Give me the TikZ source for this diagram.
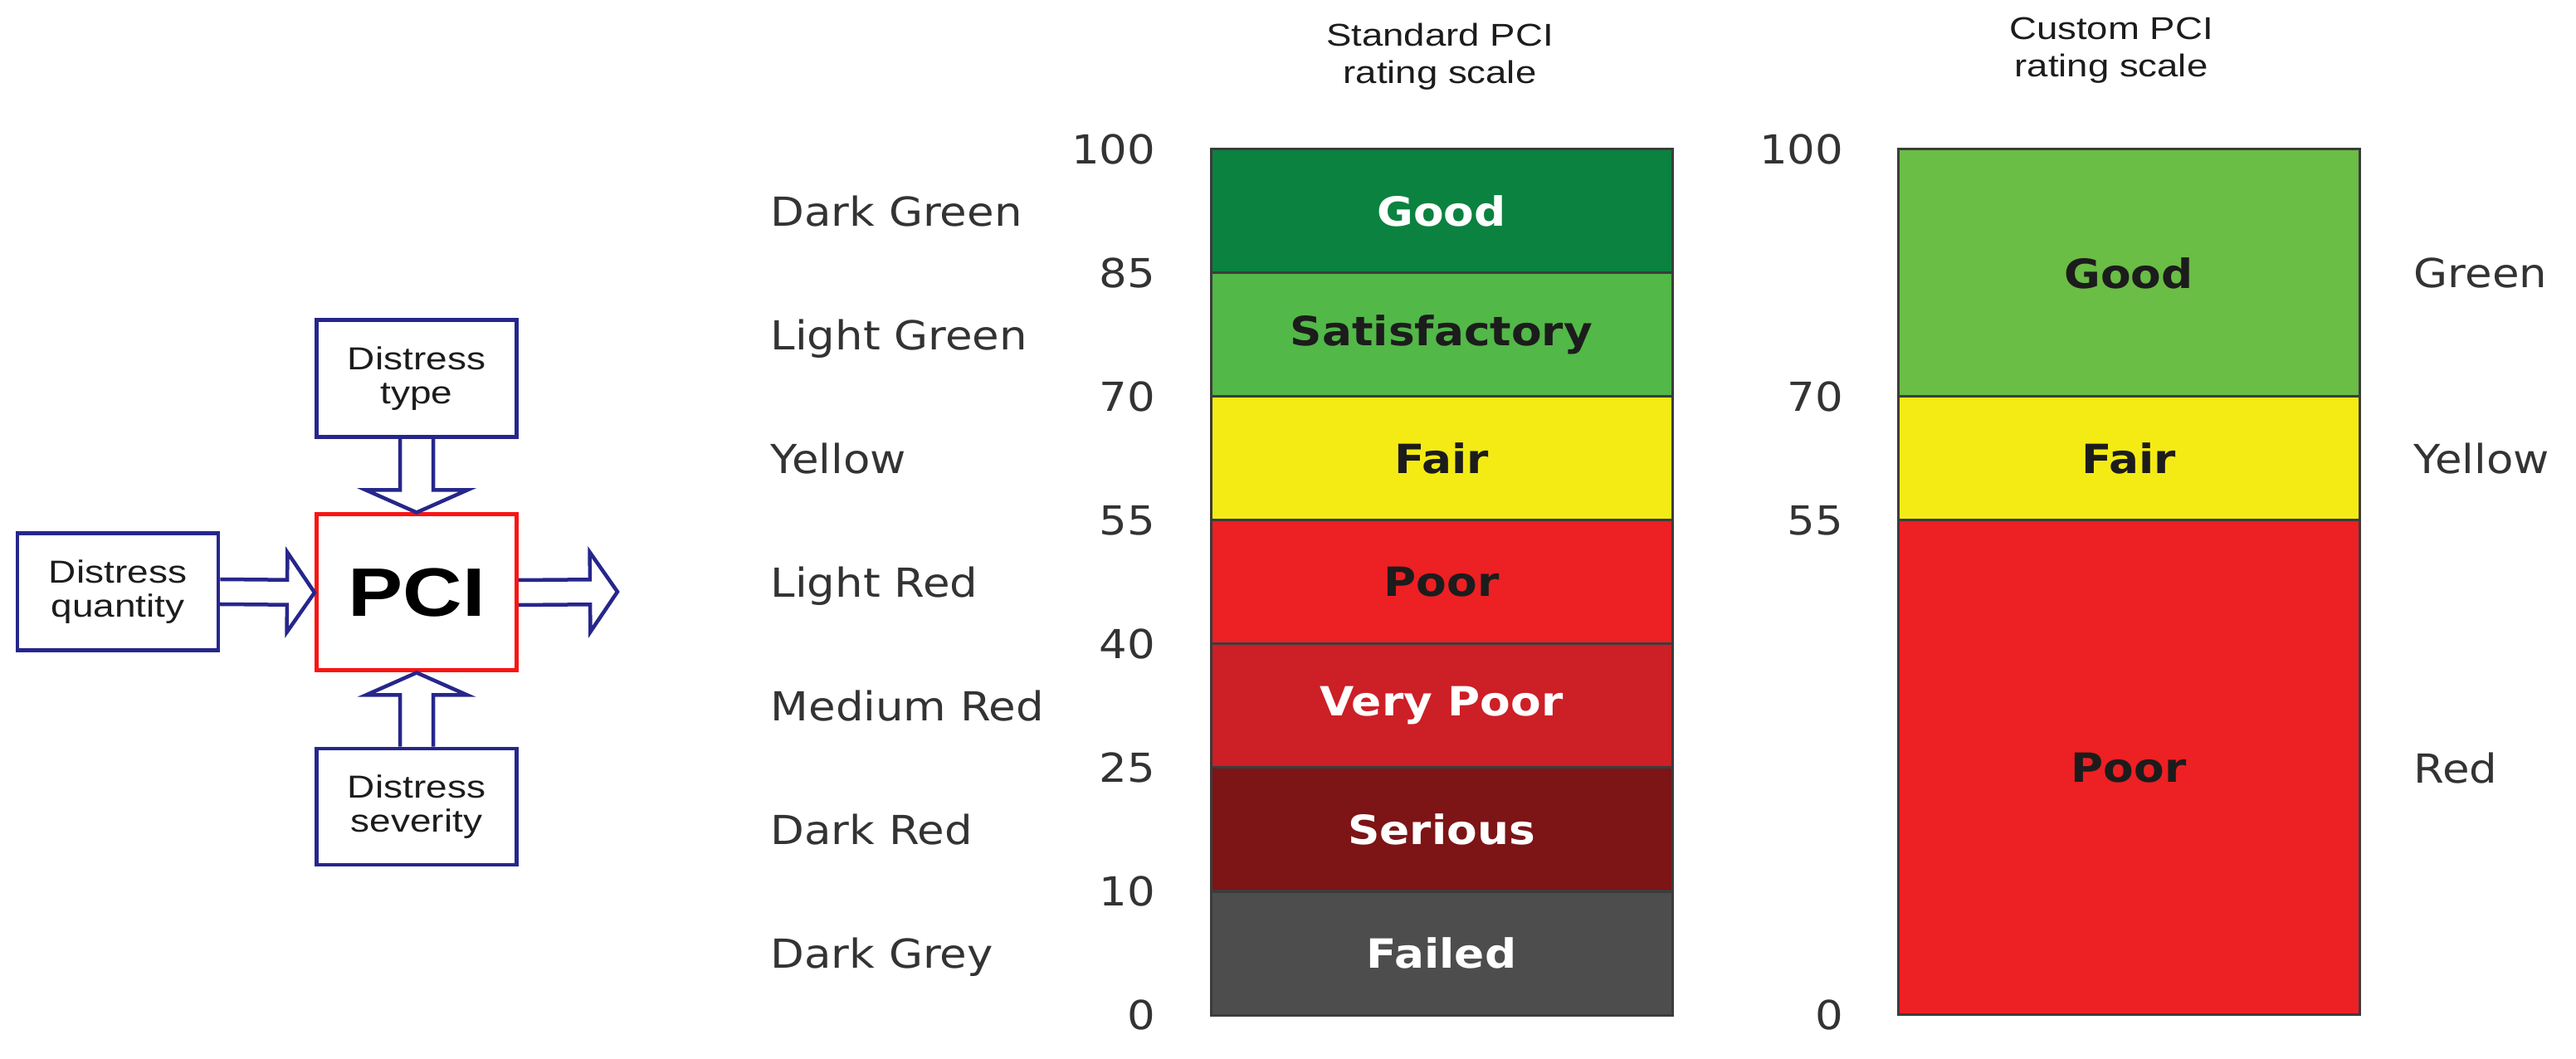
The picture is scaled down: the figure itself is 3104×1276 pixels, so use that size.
\documentclass[tikz,border=0pt]{standalone}
\usepackage{fontspec}
\usetikzlibrary{calc}
\newfontfamily\boxfont[FakeStretch=1.2]{Liberation Sans}
\newfontfamily\tahomafont[FakeStretch=1.1]{DejaVu Sans}
\definecolor{boxblue}{RGB}{38,38,140}
\definecolor{pcired}{RGB}{250,20,20}
\definecolor{darkgreen}{RGB}{11,130,64}
\definecolor{lightgreen}{RGB}{82,184,72}
\definecolor{customgreen}{RGB}{106,189,69}
\definecolor{scaleyellow}{RGB}{244,235,20}
\definecolor{lightred}{RGB}{237,32,36}
\definecolor{mediumred}{RGB}{204,31,38}
\definecolor{darkred}{RGB}{125,20,22}
\definecolor{darkgrey}{RGB}{77,77,77}
\definecolor{bandline}{RGB}{60,60,60}
\definecolor{labelgrey}{RGB}{51,51,51}
\definecolor{inkblack}{RGB}{28,28,28}

\begin{document}
\begin{tikzpicture}[x=0.1mm,y=-0.1mm,
 inbox/.style={draw=boxblue,line width=0.45mm,minimum width=24.1mm,minimum height=14.1mm,align=center,inner sep=0pt,text=inkblack,font=\boxfont\fontsize{10.9}{11.8}\selectfont},
 fat arrow/.style args={#1/#2/#3}{draw=boxblue,line width=0.45mm,to path={
  ($(\tikztostart)!#1!90:(\tikztotarget)$)
  -- ($($(\tikztotarget)!#3!(\tikztostart)$)!#1!90:(\tikztotarget)$)
  -- ($($(\tikztotarget)!#3!(\tikztostart)$)!#2!90:(\tikztotarget)$)
  -- (\tikztotarget)
  -- ($($(\tikztotarget)!#3!(\tikztostart)$)!#2!-90:(\tikztotarget)$)
  -- ($($(\tikztotarget)!#3!(\tikztostart)$)!#1!-90:(\tikztotarget)$)
  -- ($(\tikztostart)!#1!-90:(\tikztotarget)$)}},
 vfat/.style={fat arrow=2mm/6.1mm/2.7mm},
 hfat/.style={fat arrow=1.5mm/4.8mm/3.3mm},
 title/.style={align=center,inner sep=0pt,text=inkblack,font=\boxfont\fontsize{10.8}{12.8}\selectfont},
 band/.style={draw=bandline,line width=0.3mm,minimum width=55.6mm,minimum height=14.9mm,inner sep=0pt,font=\tahomafont\bfseries\fontsize{13.8}{16}\selectfont},
 num/.style={anchor=east,inner sep=0pt,text=labelgrey,font=\tahomafont\fontsize{13.7}{16}\selectfont},
 colname/.style={anchor=west,inner sep=0pt,text depth=0pt,text=labelgrey,font=\tahomafont\fontsize{13.7}{16}\selectfont}]
 \useasboundingbox (0,0) rectangle (3104,1276);
 % inputs of the index
 \node (box type) at (502,456) [inbox] {Distress\\type};
 \node (box pci) at (502,714) [inbox,draw=pcired,line width=0.5mm,minimum height=18.8mm,font=\boxfont\fontsize{23.5}{26}\bfseries\selectfont,text=black] {PCI};
 \node (box qty) at (142,713) [inbox,minimum width=24.2mm] {Distress\\quantity};
 \node (box sev) at (502,972) [inbox,minimum height=14mm] {Distress\\severity};
 \coordinate (pci out) at (744,713);
 \draw[vfat] (box type.south) to (box pci.north);
 \draw[vfat] (box sev.north) to (box pci.south);
 \draw[hfat] (box qty.east) to (box pci.west);
 \draw[hfat] (box pci.east) to (pci out);
 % standard scale
 \node (std title) at (1735,68) [title] {Standard PCI\\rating scale};
 \node (std 1) at (1737,254.5) [band,fill=darkgreen,text=white] {Good};
 \node (std 2) at (1737,403.5) [band,fill=lightgreen,text=inkblack] {Satisfactory};
 \node (std 3) at (1737,552.5) [band,fill=scaleyellow,text=inkblack] {Fair};
 \node (std 4) at (1737,701.5) [band,fill=lightred,text=inkblack] {Poor};
 \node (std 5) at (1737,850.5) [band,fill=mediumred,text=white] {Very Poor};
 \node (std 6) at (1737,999.5) [band,fill=darkred,text=white] {Serious};
 \node (std 7) at (1737,1148.5) [band,fill=darkgrey,text=white] {Failed};
 \node (std 100) at (1393,180) [num] {100};
 \node (std 85) at (1393,329) [num] {85};
 \node (std 70) at (1393,478) [num] {70};
 \node (std 55) at (1393,627) [num] {55};
 \node (std 40) at (1393,776) [num] {40};
 \node (std 25) at (1393,925) [num] {25};
 \node (std 10) at (1393,1074) [num] {10};
 \node (std 0) at (1393,1223) [num] {0};
 \node (lbl 1) at (928,254.5) [colname] {Dark Green};
 \node (lbl 2) at (928,403.5) [colname] {Light Green};
 \node (lbl 3) at (928,552.5) [colname] {Yellow};
 \node (lbl 4) at (928,701.5) [colname] {Light Red};
 \node (lbl 5) at (928,850.5) [colname] {Medium Red};
 \node (lbl 6) at (928,999.5) [colname] {Dark Red};
 \node (lbl 7) at (928,1148.5) [colname] {Dark Grey};
 % custom scale
 \node (cst title) at (2544,61) [title] {Custom PCI\\rating scale};
 \node (cst 1) at (2565,329) [band,minimum height=29.8mm,fill=customgreen,text=inkblack] {Good};
 \node (cst 2) at (2565,552.5) [band,fill=scaleyellow,text=inkblack] {Fair};
 \node (cst 3) at (2565,925) [band,minimum height=59.6mm,fill=lightred,text=inkblack] {Poor};
 \node (cst 100) at (2222,180) [num] {100};
 \node (cst 70) at (2222,478) [num] {70};
 \node (cst 55) at (2222,627) [num] {55};
 \node (cst 0) at (2222,1223) [num] {0};
 \node (lbl green) at (2908,329) [colname] {Green};
 \node (lbl yellow) at (2908,552.5) [colname] {Yellow};
 \node (lbl red) at (2908,925) [colname] {Red};
\end{tikzpicture}
\end{document}
